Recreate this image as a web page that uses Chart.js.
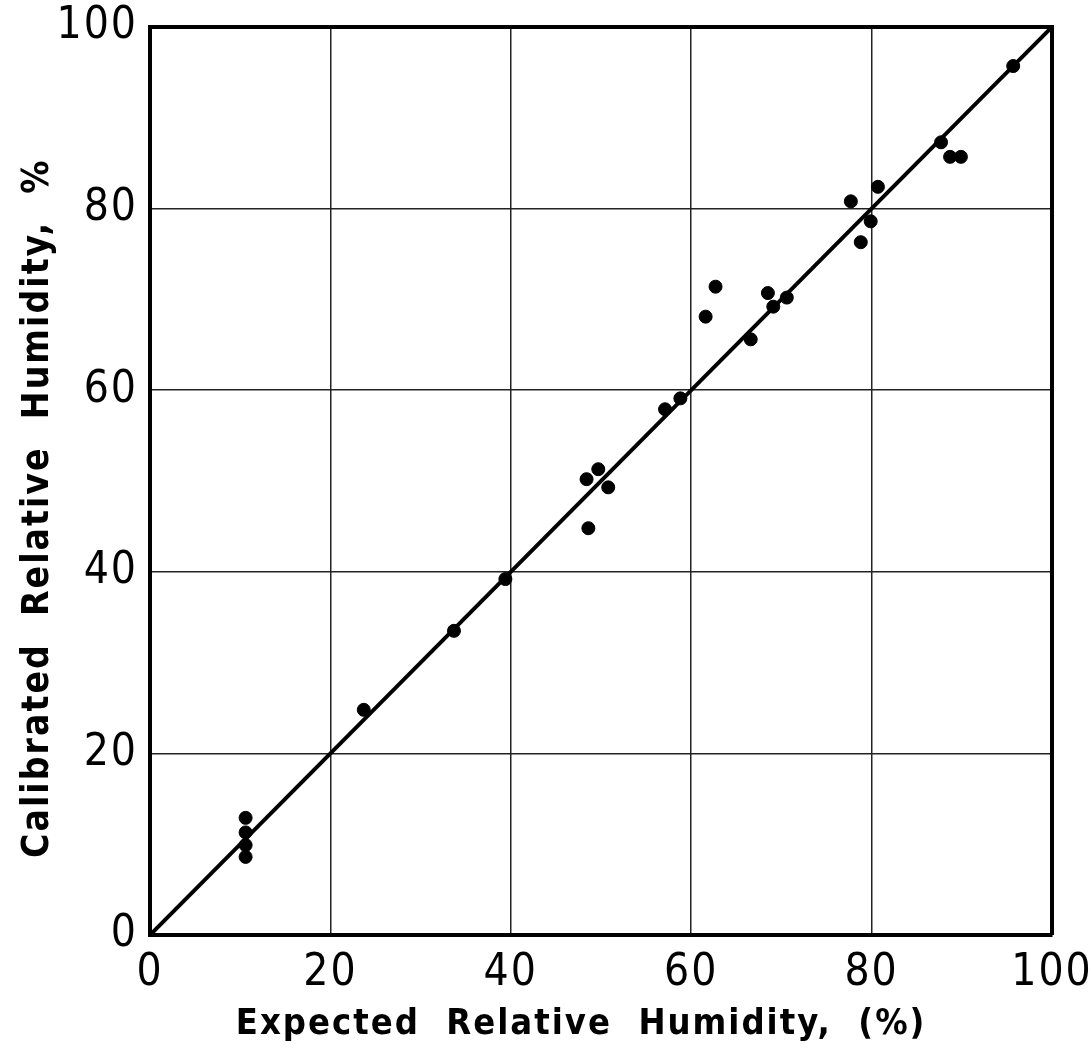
<!DOCTYPE html>
<html>
<head>
<meta charset="utf-8">
<script src="https://cdn.jsdelivr.net/npm/chart.js@4/dist/chart.umd.min.js"></script>
<style>
  html, body { margin: 0; padding: 0; background: #fff; }
  #wrap { width: 1092px; height: 1057px; }
</style>
</head>
<body>
<div id="wrap"><canvas id="grafico" width="1092" height="1057"></canvas></div>
<script>
// valores
let esperado = [10.6, 10.6, 10.6, 10.6, 23.7, 33.7, 39.4, 48.4, 48.6, 49.7, 50.8, 57.1, 58.8,
    61.6, 62.7, 66.6, 68.5, 69.1, 70.6, 77.7, 78.8, 79.9, 80.7, 87.7, 88.7, 89.9, 95.7]
let calibrado = [12.9, 11.3, 9.9, 8.6, 24.8, 33.5, 39.2, 50.2, 44.8, 51.3, 49.3, 57.9, 59.1,
    68.1, 71.4, 65.6, 70.7, 69.2, 70.2, 80.8, 76.3, 78.6, 82.4, 87.3, 85.7, 85.7, 95.7]
let linhaX = [0, 100]
let linhaY = [0, 100]
let ticks = [0, 20, 40, 60, 80, 100]

let fonte = "'DejaVu Sans Condensed', 'DejaVu Sans', sans-serif"

let pontos = esperado.map((v, i) => ({ x: v, y: calibrado[i] }))
let linha = linhaX.map((v, i) => ({ x: v, y: linhaY[i] }))

let ctx = document.getElementById('grafico').getContext('2d')
new Chart(ctx, {
    type: 'scatter',
    data: {
        datasets: [{
            data: pontos,
            backgroundColor: '#000',
            borderColor: '#000',
            pointRadius: 6.5,
            pointHoverRadius: 6.5
        }, {
            type: 'line',
            data: linha,
            borderColor: '#000',
            borderWidth: 4,
            pointRadius: 0,
            fill: false
        }]
    },
    options: {
        responsive: false,
        animation: false,
        layout: { padding: { top: 27, right: 40, left: 0, bottom: 0 } },
        plugins: { legend: { display: false }, tooltip: { enabled: false } },
        scales: {
            x: {
                type: 'linear',
                min: 0, max: 100,
                afterBuildTicks: (s) => { s.ticks = ticks.map(v => ({ value: v })) },
                afterFit: (s) => { s.height = 122; s.paddingLeft = 0; s.paddingRight = 0 },
                grid: { color: '#222', lineWidth: 1.5, drawTicks: false },
                border: { color: '#000', width: 4 },
                ticks: { color: '#000', padding: 12, font: { family: fonte, size: 44 } },
                title: {
                    display: true,
                    // espacos no fim empurram o texto para a esquerda, como no original
                    text: 'Expected  Relative  Humidity,  (%)   ',
                    color: '#000',
                    font: { family: fonte, size: 36, weight: 'bold' },
                    padding: { top: 0, bottom: 11 }
                }
            },
            y: {
                type: 'linear',
                min: 0, max: 100,
                afterBuildTicks: (s) => { s.ticks = ticks.map(v => ({ value: v })) },
                afterFit: (s) => { s.width = 150; s.paddingTop = 0; s.paddingBottom = 0 },
                grid: { color: '#222', lineWidth: 1.5, drawTicks: false },
                border: { color: '#000', width: 4 },
                ticks: { color: '#000', padding: 12, font: { family: fonte, size: 44 } },
                title: {
                    display: true,
                    text: 'Calibrated  Relative  Humidity,  %    ',
                    color: '#000',
                    font: { family: fonte, size: 37, weight: 'bold' },
                    padding: { top: 16, bottom: 0 }
                }
            }
        }
    },
    plugins: [{
        id: 'espaco',
        beforeDraw: (chart) => { chart.ctx.letterSpacing = '2px' }
    }, {
        // borda de cima e da direita
        id: 'moldura',
        afterDraw: (chart) => {
            let a = chart.chartArea
            let c = chart.ctx
            c.save()
            c.strokeStyle = '#000'
            c.lineWidth = 4
            c.beginPath()
            c.moveTo(a.left, a.top)
            c.lineTo(a.right, a.top)
            c.lineTo(a.right, a.bottom)
            c.stroke()
            c.restore()
        }
    }]
})
</script>
</body>
</html>
